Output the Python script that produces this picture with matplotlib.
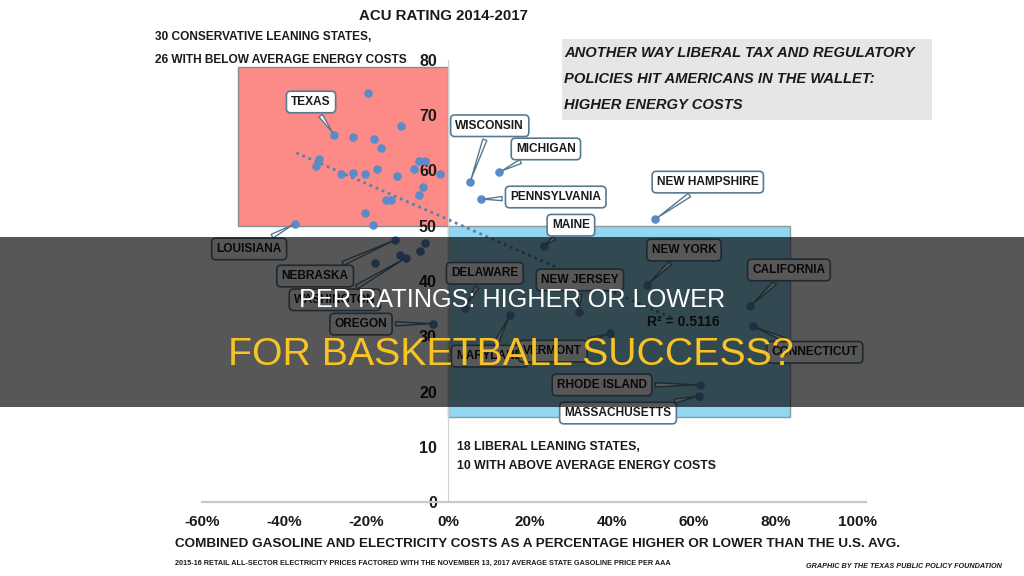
import matplotlib
matplotlib.use("Agg")
import matplotlib.pyplot as plt
from matplotlib import font_manager
from matplotlib.patches import Rectangle

names = {f.name for f in font_manager.fontManager.ttflist}
NARROW = "Liberation Sans Narrow" if "Liberation Sans Narrow" in names else "Liberation Sans"
plt.rcParams["font.family"] = [NARROW, "DejaVu Sans"]

# state points: % energy cost vs U.S. avg, ACU rating
cons_x = [-19.4, -27.8, -23.1, -18.0, -16.4, -11.4, -31.4, -32.3, -26.0, -23.1, -20.3,
          -17.2, -12.5, -7.0, -5.7, -8.2, -1.9, -6.2, -7.0, -15.0, -13.8, -20.3, -18.3,
          -37.3, -13.0, -5.6, -11.8, -10.2, -6.7, -17.9, -3.6]
cons_y = [74.1, 66.5, 66.1, 65.7, 64.1, 68.0, 62.0, 60.8, 59.4, 59.6, 59.4,
          60.3, 59.0, 61.7, 61.7, 60.2, 59.4, 57.1, 55.5, 54.6, 54.7, 52.3, 50.2,
          50.4, 47.4, 46.8, 44.7, 44.2, 45.4, 43.2, 32.3]
lib_x = [5.4, 12.5, 8.0, 50.6, 23.4, 48.5, 73.7, 74.4, 32.1, 4.1, 15.1, 39.5, 61.4, 61.3]
lib_y = [57.9, 59.7, 54.8, 51.2, 46.3, 39.2, 35.4, 31.8, 34.4, 35.1, 33.8, 30.5, 21.2, 19.2]

# callouts: name, point, label centre
call_names = ["TEXAS", "WISCONSIN", "MICHIGAN", "PENNSYLVANIA", "NEW HAMPSHIRE", "MAINE",
              "LOUISIANA", "NEBRASKA", "WASHINGTON", "OREGON", "DELAWARE", "NEW JERSEY",
              "NEW YORK", "CALIFORNIA", "CONNECTICUT", "MARYLAND", "VERMONT",
              "RHODE ISLAND", "MASSACHUSETTS"]
call_px = [-27.8, 5.4, 12.5, 8.0, 50.6, 23.4, -37.3, -13.0, -10.2, -3.6, 4.1, 32.1,
           48.5, 73.7, 74.4, 15.1, 39.5, 61.4, 61.3]
call_py = [66.5, 57.9, 59.7, 54.8, 51.2, 46.3, 50.4, 47.4, 44.2, 32.3, 35.1, 34.4,
           39.2, 35.4, 31.8, 33.8, 30.5, 21.2, 19.2]
call_tx = [-33.4, 10.2, 23.9, 26.3, 63.4, 30.0, -48.5, -32.4, -27.6, -21.2, 9.0, 32.2,
           57.6, 83.2, 89.5, 10.2, 25.6, 37.6, 41.5]
call_ty = [72.4, 68.1, 63.9, 55.2, 57.9, 50.1, 45.8, 40.9, 36.6, 32.2, 41.4, 40.2,
           45.6, 42.0, 27.1, 26.4, 27.3, 21.2, 16.1]

trend_x = [-37, 55]
trend_y = [63.2, 33.2]

xticks = [-60, -40, -20, 0, 20, 40, 60, 80, 100]
xtick_labels = ["-60%", "-40%", "-20%", "0%", "20%", "40%", "60%", "80%", "100%"]
yticks = [0, 10, 20, 30, 40, 50, 60, 70, 80]


def fx(px):
    return px / 1024


def fy(py):
    return 1 - py / 576


fig = plt.figure(figsize=(10.24, 5.76), dpi=100)
ax = fig.add_axes([fx(202), fy(502), 664 / 1024, 442 / 576])
ax.set_xlim(-60, 102)
ax.set_ylim(0, 80)

# shaded quadrants
ax.add_patch(Rectangle((-51.2, 50), 51.2, 28.7, fc="#fc8a87", ec="#8c8c8c", lw=1, zorder=1))
ax.add_patch(Rectangle((0, 15.4), 83.4, 34.6, fc="#92d6f2", ec="#8c9aa3", lw=1, zorder=1))

ax.plot(trend_x, trend_y, color="#5d7fae", lw=2, ls=(0, (1, 1.4)), zorder=2)
ax.scatter(cons_x, cons_y, s=38, color="#5b8bc9", zorder=3, lw=0)
ax.scatter(lib_x, lib_y, s=38, color="#5b8bc9", zorder=3, lw=0)

for n, px, py, tx, ty in zip(call_names, call_px, call_py, call_tx, call_ty):
    ax.annotate(n, xy=(px, py), xytext=(tx, ty), ha="center", va="center",
                fontsize=8.6, fontweight="bold", color="#1a1a1a", zorder=5,
                annotation_clip=False,
                bbox=dict(boxstyle="round,pad=0.4,rounding_size=0.35", fc="white",
                          ec="#587a90", lw=1.2),
                arrowprops=dict(arrowstyle="wedge,tail_width=0.35,shrink_factor=0.5",
                                fc="white", ec="#587a90", lw=1.0))

ax.text(57.5, 32.6, "R² = 0.5116", ha="center", va="center", fontsize=10,
        fontweight="bold", color="#222222", zorder=4)

for s in ["top", "right"]:
    ax.spines[s].set_visible(False)
ax.spines["left"].set_position(("data", 0))
ax.spines["left"].set_color("#cfcfcf")
ax.spines["bottom"].set_color("#c8c8c8")
ax.spines["bottom"].set_linewidth(1.6)
ax.set_xticks(xticks)
ax.set_xticklabels(xtick_labels)
ax.set_yticks(yticks)
ax.tick_params(length=0)
ax.tick_params(axis="x", pad=9, labelsize=11)
ax.tick_params(axis="y", pad=8, labelsize=11.5)
for lab in ax.get_xticklabels() + ax.get_yticklabels():
    lab.set_fontweight("bold")
    lab.set_color("#1a1a1a")
ax.patch.set_alpha(0)

# texts around the chart
fig.text(fx(443), fy(16), "ACU RATING 2014-2017", ha="center", va="center",
         fontsize=10.8, fontweight="bold", color="#1a1a1a")
fig.text(fx(155), fy(37), "30 CONSERVATIVE LEANING STATES,", ha="left", va="center",
         fontsize=8.6, fontweight="bold", color="#1a1a1a")
fig.text(fx(155), fy(60), "26 WITH BELOW AVERAGE ENERGY COSTS", ha="left", va="center",
         fontsize=8.6, fontweight="bold", color="#1a1a1a")

fig.add_artist(Rectangle((fx(562), fy(120)), 370 / 1024, 81 / 576, transform=fig.transFigure,
                         fc="#e6e6e6", ec="none"))
for i, line in enumerate(["ANOTHER WAY LIBERAL TAX AND REGULATORY",
                          "POLICIES HIT AMERICANS IN THE WALLET:",
                          "HIGHER ENERGY COSTS"]):
    fig.text(fx(564), fy(53 + 26 * i), line, ha="left", va="center", fontsize=10.6,
             fontweight="bold", style="italic", color="#1a1a1a")

fig.text(fx(457), fy(447), "18 LIBERAL LEANING STATES,", ha="left", va="center",
         fontsize=8.8, fontweight="bold", color="#1a1a1a")
fig.text(fx(457), fy(466), "10 WITH ABOVE AVERAGE ENERGY COSTS", ha="left", va="center",
         fontsize=8.8, fontweight="bold", color="#1a1a1a")

fig.text(fx(175), fy(544),
         "COMBINED GASOLINE AND ELECTRICITY COSTS AS A PERCENTAGE HIGHER OR LOWER THAN THE U.S. AVG.",
         ha="left", va="center", fontsize=9.7, fontweight="bold", color="#1a1a1a")
fig.text(fx(175), fy(563),
         "2015-16 RETAIL ALL-SECTOR ELECTRICITY PRICES FACTORED WITH THE NOVEMBER 13, 2017 "
         "AVERAGE STATE GASOLINE PRICE PER AAA",
         ha="left", va="center", fontsize=5.2, fontweight="bold", color="#1a1a1a")
fig.text(fx(1002), fy(567), "GRAPHIC BY THE TEXAS PUBLIC POLICY FOUNDATION", ha="right",
         va="center", fontsize=5.2, fontweight="bold", style="italic", color="#1a1a1a")

# banner overlay
fig.add_artist(Rectangle((0, fy(407)), 1, 170 / 576, transform=fig.transFigure,
                         fc="black", alpha=0.66, ec="none", zorder=10))
fig.text(0.5, fy(300), "PER RATINGS: HIGHER OR LOWER", ha="center", va="center",
         fontsize=18.2, color="white", family=["Liberation Sans", "DejaVu Sans"], zorder=11)
fig.text(fx(511), fy(355), "FOR BASKETBALL SUCCESS?", ha="center", va="center",
         fontsize=28.3, color="#f7c325", family=["Liberation Sans", "DejaVu Sans"], zorder=11)

fig.savefig("out.png", dpi=100)
